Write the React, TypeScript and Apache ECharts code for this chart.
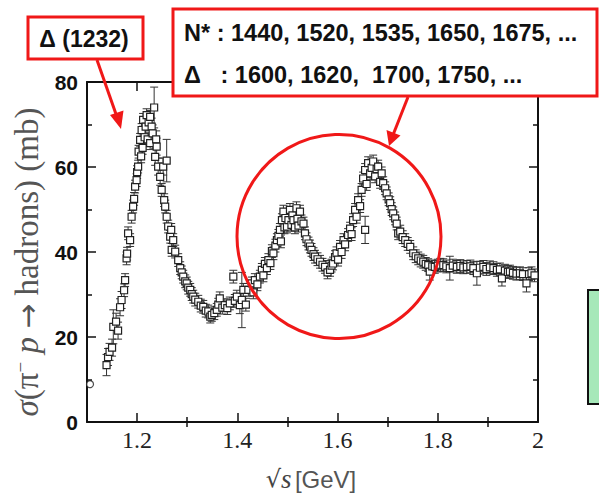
import React, { useEffect, useRef } from "react";
import * as echarts from "echarts";

// sqrt(s) in GeV
const energy = [
  1.139, 1.142, 1.145, 1.150, 1.1525, 1.158, 1.162, 1.166, 1.169, 1.174, 1.176, 1.179, 1.180, 1.182, 1.186,
  1.189, 1.192, 1.194, 1.196, 1.199, 1.200, 1.202, 1.203, 1.206, 1.208, 1.209, 1.211, 1.212, 1.215, 1.217,
  1.219, 1.221, 1.223, 1.226, 1.226, 1.229, 1.231, 1.234, 1.236, 1.238, 1.239, 1.242, 1.246, 1.249, 1.252,
  1.254, 1.256, 1.259, 1.259, 1.262, 1.266, 1.268, 1.269, 1.272, 1.276, 1.282, 1.286, 1.289, 1.292, 1.296,
  1.299, 1.302, 1.306, 1.309, 1.312, 1.316, 1.322, 1.327, 1.332, 1.337, 1.342, 1.346, 1.349, 1.354, 1.359,
  1.362, 1.365, 1.370, 1.375, 1.380, 1.385, 1.392, 1.395, 1.399, 1.405, 1.409, 1.412, 1.417, 1.422, 1.429,
  1.432, 1.435, 1.440, 1.445, 1.449, 1.452, 1.455, 1.459, 1.462, 1.466, 1.469, 1.472, 1.476, 1.479, 1.482,
  1.485, 1.487, 1.489, 1.492, 1.494, 1.496, 1.499, 1.502, 1.505, 1.508, 1.510, 1.512, 1.515, 1.518, 1.520,
  1.522, 1.525, 1.528, 1.532, 1.535, 1.538, 1.542, 1.545, 1.548, 1.552, 1.555, 1.560, 1.565, 1.570, 1.575,
  1.580, 1.585, 1.588, 1.591, 1.595, 1.598, 1.601, 1.605, 1.608, 1.612, 1.615, 1.621, 1.625, 1.628, 1.631,
  1.635, 1.638, 1.641, 1.645, 1.648, 1.651, 1.655, 1.655, 1.658, 1.661, 1.665, 1.668, 1.671, 1.675, 1.678,
  1.681, 1.685, 1.688, 1.691, 1.695, 1.698, 1.702, 1.705, 1.708, 1.711, 1.715, 1.718, 1.721, 1.725, 1.730,
  1.735, 1.740, 1.745, 1.751, 1.756, 1.761, 1.766, 1.771, 1.776, 1.781, 1.784, 1.789, 1.794, 1.800, 1.805,
  1.811, 1.817, 1.824, 1.830, 1.838, 1.845, 1.851, 1.858, 1.865, 1.871, 1.878, 1.884, 1.891, 1.897, 1.904,
  1.911, 1.918, 1.924, 1.928, 1.934, 1.940, 1.944, 1.950, 1.957, 1.964, 1.970, 1.977, 1.982, 1.987, 1.993,
];

// cross section in mb
const sigma = [
  13.4, 15.3, 16.5, 17.5, 22.4, 23.6, 21.5, 27.0, 28.7, 31.0, 33.4, 38.5, 39.6, 44.4, 42.8,
  48.3, 50.7, 52.5, 55.4, 56.9, 58.8, 60.1, 63.6, 66.4, 62.5, 68.7, 64.5, 71.1, 67.0, 69.5,
  72.2, 66.5, 70.5, 71.8, 65.6, 69.5, 67.9, 74.0, 62.4, 66.5, 64.8, 60.1, 57.7, 54.6, 60.1,
  52.2, 50.7, 61.5, 48.3, 46.0, 43.6, 45.2, 40.5, 42.8, 40.1, 38.1, 36.2, 35.2, 34.2, 33.1,
  32.6, 31.6, 31.1, 30.1, 29.5, 28.8, 28.3, 27.4, 27.1, 26.2, 26.0, 24.8, 25.2, 25.6, 26.4,
  27.6, 29.1, 26.9, 27.5, 26.8, 27.9, 34.2, 28.5, 29.5, 27.5, 28.7, 31.1, 27.6, 31.1, 32.6,
  30.5, 33.4, 32.4, 34.2, 35.8, 34.5, 37.2, 36.2, 38.1, 37.4, 40.2, 39.7, 41.5, 42.8, 43.8,
  45.2, 42.5, 47.5, 49.5, 45.8, 48.0, 46.0, 47.5, 49.9, 46.4, 48.6, 47.5, 45.8, 50.3, 47.8,
  46.2, 49.5, 47.2, 46.7, 44.4, 43.0, 42.0, 41.3, 40.5, 39.5, 38.9, 38.3, 37.7, 37.0, 36.5,
  35.2, 35.8, 36.8, 37.3, 38.8, 39.7, 38.2, 41.2, 40.0, 42.8, 41.8, 44.0, 45.5, 44.2, 47.5,
  49.9, 48.3, 52.2, 50.8, 54.6, 57.3, 45.2, 59.3, 56.0, 60.9, 58.5, 59.8, 61.3, 57.8, 59.5,
  60.1, 56.5, 58.5, 56.2, 55.0, 53.8, 52.4, 51.5, 50.1, 49.1, 47.9, 46.7, 44.4, 44.8, 43.5,
  42.8, 41.9, 41.2, 39.7, 39.0, 38.5, 38.0, 37.7, 37.2, 36.9, 35.4, 36.6, 36.5, 36.8, 37.0,
  36.9, 36.6, 36.2, 36.8, 36.5, 36.7, 36.4, 36.5, 36.6, 36.2, 35.0, 36.3, 36.5, 36.0, 36.4,
  36.2, 35.8, 35.9, 33.8, 35.6, 35.3, 35.4, 35.1, 34.9, 35.0, 34.8, 32.6, 34.8, 35.0, 34.5,
];

// error half-widths in mb
const sigmaErr = [
  2.5, 2.0, 2.0, 2.0, 4.0, 2.0, 2.0, 2.0, 2.0, 1.5, 1.5, 1.5, 1.5, 1.5, 1.5,
  1.5, 1.5, 1.5, 1.5, 1.5, 1.5, 1.5, 1.5, 1.5, 1.5, 1.5, 1.5, 1.5, 1.5, 1.5,
  1.5, 1.5, 1.5, 1.5, 1.5, 2.0, 2.0, 4.8, 2.0, 2.0, 2.0, 2.0, 2.0, 1.5, 2.0,
  1.5, 1.5, 5.0, 1.5, 1.5, 1.5, 1.5, 1.5, 1.5, 1.5, 1.5, 1.5, 1.5, 1.5, 1.5,
  1.5, 1.5, 1.5, 1.5, 1.5, 1.5, 1.5, 1.5, 1.5, 1.5, 1.5, 1.5, 1.5, 1.5, 1.5,
  1.5, 1.5, 1.5, 1.5, 1.5, 1.5, 1.5, 1.5, 1.5, 2.0, 6.5, 1.5, 1.5, 1.5, 1.5,
  1.5, 1.5, 1.5, 1.5, 1.5, 1.5, 1.5, 1.5, 1.5, 1.5, 1.5, 1.5, 1.5, 1.5, 1.5,
  1.5, 1.5, 1.5, 1.5, 1.5, 1.5, 1.5, 1.5, 1.5, 1.5, 1.5, 1.5, 1.5, 1.5, 1.5,
  1.5, 1.5, 1.5, 1.5, 1.5, 1.5, 1.5, 1.5, 1.5, 1.5, 1.5, 1.5, 1.5, 1.5, 1.5,
  1.5, 1.5, 1.5, 1.5, 1.5, 1.5, 1.5, 1.5, 1.5, 1.5, 1.5, 1.5, 1.5, 1.5, 1.5,
  1.5, 1.5, 1.5, 1.5, 1.5, 1.5, 3.2, 1.5, 1.5, 1.5, 1.5, 1.5, 1.5, 1.5, 1.5,
  1.5, 1.5, 1.5, 1.5, 1.5, 1.5, 1.5, 1.5, 1.5, 1.5, 1.5, 1.5, 1.5, 1.5, 1.5,
  1.5, 1.5, 1.5, 1.5, 1.5, 1.5, 1.5, 1.5, 1.5, 1.5, 2.0, 1.5, 1.5, 1.5, 1.5,
  1.5, 1.5, 2.8, 1.5, 1.5, 1.5, 1.5, 1.5, 1.5, 1.5, 2.8, 1.5, 1.5, 1.5, 1.5,
  1.5, 1.5, 1.5, 1.8, 1.5, 1.5, 1.5, 1.5, 1.5, 1.5, 1.5, 2.0, 1.5, 1.5, 1.5,
];

// lone low-energy point drawn as a circle
const lowEnergy = [1.106];
const lowSigma = [8.9];

const xMajor = [1.2, 1.4, 1.6, 1.8, 2.0];
const xMinor = [1.3, 1.5, 1.7, 1.9];

const RED = "#f01818";

export default function App() {
  const ref = useRef<HTMLDivElement>(null);

  useEffect(() => {
    if (!ref.current) return;
    const chart = echarts.init(ref.current, null, { renderer: "svg" });

    const points = energy.map((x, i) => [x, sigma[i]]);
    const bars = energy.map((x, i) => [x, sigma[i] - sigmaErr[i], sigma[i] + sigmaErr[i]]);

    const axisLine = { show: true, onZero: false, lineStyle: { color: "#111", width: 2 } };

    const xAxisBase = (position: string, values: number[], len: number, showLine: boolean, labels: boolean) => ({
      type: "value",
      min: 1.1,
      max: 2.0,
      position,
      axisLine: showLine ? axisLine : { show: false },
      splitLine: { show: false },
      axisTick: {
        show: true,
        inside: true,
        length: len,
        customValues: values,
        lineStyle: { color: "#111", width: 1.5 },
      },
      axisLabel: labels
        ? {
            show: true,
            customValues: xMajor,
            formatter: (v: number) => (Math.abs(v - 2) < 1e-6 ? "2" : v.toFixed(1)),
            fontFamily: "Liberation Serif",
            fontSize: 24,
            color: "#222",
            margin: 6,
          }
        : { show: false },
    });

    const yAxisBase = (position: string, labels: boolean) => ({
      type: "value",
      min: 0,
      max: 80,
      interval: 20,
      position,
      axisLine,
      splitLine: { show: false },
      axisTick: { show: true, inside: true, length: 9, lineStyle: { color: "#111", width: 1.5 } },
      minorTick: { show: true, splitNumber: 2, length: 5, lineStyle: { color: "#111", width: 1.5 } },
      axisLabel: labels
        ? {
            show: true,
            fontFamily: "Liberation Sans",
            fontWeight: "bold",
            fontSize: 21,
            color: "#111",
            margin: 9,
          }
        : { show: false },
    });

    const option = {
      animation: false,
      backgroundColor: "#ffffff",
      grid: { left: 87, right: 61, top: 82, bottom: 71 },
      xAxis: [
        xAxisBase("bottom", xMajor, 9, true, true),
        xAxisBase("bottom", xMinor, 5, false, false),
        xAxisBase("top", xMajor, 9, true, false),
        xAxisBase("top", xMinor, 5, false, false),
      ],
      yAxis: [yAxisBase("left", true), yAxisBase("right", false)],
      series: [
        {
          type: "custom",
          xAxisIndex: 0,
          yAxisIndex: 0,
          z: 2,
          data: bars,
          encode: { x: 0, y: [1, 2] },
          renderItem: (params: any, api: any) => {
            const x = api.value(0);
            const lo = api.coord([x, api.value(1)]);
            const hi = api.coord([x, api.value(2)]);
            const st = { stroke: "#333", lineWidth: 1 };
            return {
              type: "group",
              children: [
                { type: "line", shape: { x1: lo[0], y1: lo[1], x2: hi[0], y2: hi[1] }, style: st },
                { type: "line", shape: { x1: lo[0] - 4, y1: lo[1], x2: lo[0] + 4, y2: lo[1] }, style: st },
                { type: "line", shape: { x1: hi[0] - 4, y1: hi[1], x2: hi[0] + 4, y2: hi[1] }, style: st },
              ],
            };
          },
        },
        {
          type: "scatter",
          xAxisIndex: 0,
          yAxisIndex: 0,
          z: 3,
          symbol: "rect",
          symbolSize: 7,
          data: points,
          itemStyle: { color: "#ffffff", borderColor: "#222", borderWidth: 1.2, opacity: 1 },
        },
        {
          type: "scatter",
          xAxisIndex: 0,
          yAxisIndex: 0,
          z: 3,
          symbol: "circle",
          symbolSize: 7,
          data: lowEnergy.map((x, i) => [x, lowSigma[i]]),
          itemStyle: { color: "#ffffff", borderColor: "#222", borderWidth: 1.2 },
        },
      ],
      graphic: [
        // y axis title
        {
          type: "text",
          x: 27,
          y: 262,
          rotation: Math.PI / 2,
          style: {
            text: "{i|σ}(π{s|−} {i|p} {a|→} hadrons) (mb)",
            align: "center",
            verticalAlign: "middle",
            fill: "#555",
            font: "33px 'Liberation Serif'",
            rich: {
              i: { fontFamily: "Liberation Serif", fontStyle: "italic", fontSize: 33, fill: "#555" },
              s: { fontFamily: "Liberation Serif", fontSize: 19, fill: "#555", verticalAlign: "top", padding: [0, 0, 13, 0] },
              a: { fontFamily: "DejaVu Sans", fontSize: 30, fill: "#555" },
            },
          },
        },
        // x axis title
        {
          type: "text",
          x: 311,
          y: 479,
          style: {
            text: "{r|√}{i|s} {g|[GeV]}",
            align: "center",
            verticalAlign: "middle",
            fill: "#444",
            rich: {
              r: { fontFamily: "DejaVu Serif", fontSize: 24, fill: "#444" },
              i: { fontFamily: "Liberation Serif", fontStyle: "italic", fontSize: 27, fill: "#444" },
              g: { fontFamily: "Liberation Sans", fontSize: 24, fill: "#555" },
            },
          },
        },
        // red circle
        {
          type: "circle",
          shape: { cx: 339, cy: 236.5, r: 102 },
          style: { fill: "none", stroke: RED, lineWidth: 3 },
          z: 10,
        },
        // Delta(1232) box
        {
          type: "rect",
          shape: { x: 28, y: 17, width: 115, height: 42 },
          style: { fill: "#fff", stroke: RED, lineWidth: 3 },
          z: 10,
        },
        {
          type: "text",
          x: 84,
          y: 39,
          z: 11,
          style: {
            text: "Δ (1232)",
            align: "center",
            verticalAlign: "middle",
            fill: "#111",
            font: "bold 23px 'Liberation Sans'",
          },
        },
        // arrow 1
        {
          type: "line",
          shape: { x1: 97, y1: 60, x2: 117, y2: 117 },
          style: { stroke: RED, lineWidth: 3 },
          z: 10,
        },
        {
          type: "polygon",
          shape: { points: [[121, 129], [110, 115], [123.5, 110.5]] },
          style: { fill: RED },
          z: 10,
        },
        // N* box
        {
          type: "rect",
          shape: { x: 173, y: 9, width: 424, height: 87 },
          style: { fill: "#fff", stroke: RED, lineWidth: 3 },
          z: 10,
        },
        {
          type: "text",
          x: 184,
          y: 33,
          z: 11,
          style: {
            text: "N* : 1440, 1520, 1535, 1650, 1675, ...",
            align: "left",
            verticalAlign: "middle",
            fill: "#111",
            font: "bold 23.5px 'Liberation Sans'",
          },
        },
        {
          type: "text",
          x: 184,
          y: 75,
          z: 11,
          style: {
            text: "Δ   : 1600, 1620,  1700, 1750, ...",
            align: "left",
            verticalAlign: "middle",
            fill: "#111",
            font: "bold 23.5px 'Liberation Sans'",
          },
        },
        // arrow 2
        {
          type: "line",
          shape: { x1: 408, y1: 97, x2: 393, y2: 135 },
          style: { stroke: RED, lineWidth: 3 },
          z: 10,
        },
        {
          type: "polygon",
          shape: { points: [[389, 146], [386.5, 130], [400.5, 135.5]] },
          style: { fill: RED },
          z: 10,
        },
        // green box at the right edge
        {
          type: "rect",
          shape: { x: 588, y: 290, width: 14, height: 114 },
          style: { fill: "#a6e8b9", stroke: "#111", lineWidth: 2 },
          z: 10,
        },
      ],
    };

    chart.setOption(option as any);
    return () => chart.dispose();
  }, []);

  return (
    <div
      ref={ref}
      style={{ position: "absolute", left: 0, top: 0, width: 599, height: 493, background: "#fff" }}
    />
  );
}
